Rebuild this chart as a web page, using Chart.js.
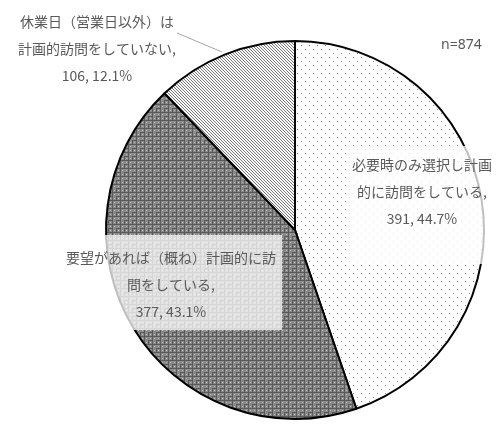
<!DOCTYPE html>
<html>
<head>
<meta charset="utf-8">
<script src="https://cdn.jsdelivr.net/npm/chart.js@4"></script>
<style>
  body { margin: 0; background: #fff; }
</style>
</head>
<body>
<canvas id="grafik" width="497" height="426"></canvas>
<script>
// data dari gambar
const kategori = [
    ['必要時のみ選択し計画', '的に訪問をしている,'],
    ['要望があれば（概ね）計画的に訪', '問をしている,'],
    ['休業日（営業日以外）は', '計画的訪問をしていない,']
];
const jumlah = [391, 377, 106];
const totalN = 874;

// pola isi (dots, plaid, hatch)
function buatPola(ukuran, gambar) {
    const c = document.createElement('canvas');
    c.width = ukuran; c.height = ukuran;
    const g = c.getContext('2d');
    gambar(g);
    return g.createPattern(c, 'repeat');
}
const ctx = document.getElementById('grafik').getContext('2d');

const polaTitik = buatPola(8, g => {
    g.fillStyle = '#fff'; g.fillRect(0, 0, 8, 8);
    g.fillStyle = '#8c8c8c';
    g.fillRect(1, 1, 1, 1);
    g.fillRect(5, 5, 1, 1);
});
const polaKotak = buatPola(8, g => {
    g.fillStyle = '#8a8a8a'; g.fillRect(0, 0, 8, 8);
    g.fillStyle = '#5a5a5a';
    g.fillRect(0, 0, 8, 1); g.fillRect(0, 0, 1, 8);
    g.fillRect(4, 4, 4, 1); g.fillRect(4, 4, 1, 4);
    g.fillStyle = '#bdbdbd';
    g.fillRect(2, 2, 1, 1); g.fillRect(6, 6, 1, 1);
    g.fillRect(2, 6, 1, 1); g.fillRect(6, 2, 1, 1);
});
const polaGaris = buatPola(3, g => {
    g.fillStyle = '#fafafa'; g.fillRect(0, 0, 3, 3);
    g.fillStyle = '#7a7a7a';
    for (let i = 0; i < 3; i++) g.fillRect(i, i, 1, 1);
});

const warnaTeks = '#595959';
const hurufLabel = '14px "Noto Sans CJK JP", sans-serif';

// posisi teks label (x tengah, y baris pertama) dan kotak latar
const posLabel = [
    { x: 422, y: 165, kotak: [347, 146, 150, 118] },
    { x: 171, y: 258, kotak: [62, 235, 220, 95] },
    { x: 97, y: 22, kotak: null }
];

const pluginLabel = {
    id: 'labelPie',
    afterDatasetsDraw(chart) {
        const c = chart.ctx;
        c.save();
        // garis penunjuk untuk slice kecil
        c.strokeStyle = '#a6a6a6';
        c.lineWidth = 1;
        c.beginPath();
        c.moveTo(177, 33);
        c.lineTo(222, 52);
        c.stroke();

        c.font = hurufLabel;
        c.textAlign = 'center';
        c.textBaseline = 'middle';
        kategori.forEach((baris, i) => {
            const p = posLabel[i];
            if (p.kotak) {
                c.fillStyle = 'rgba(255,255,255,0.75)';
                c.fillRect(p.kotak[0], p.kotak[1], p.kotak[2], p.kotak[3]);
            }
            const persen = (jumlah[i] / totalN * 100).toFixed(1) + '%';
            const semua = baris.concat([jumlah[i] + ', ' + persen]);
            c.fillStyle = warnaTeks;
            semua.forEach((t, j) => c.fillText(t, p.x, p.y + j * 27));
        });

        c.font = '14px "Noto Sans", sans-serif';
        c.textAlign = 'left';
        c.fillText('n=' + totalN, 441, 45);
        c.restore();
    }
};

const myChart = new Chart(ctx, {
    type: 'pie',
    data: {
        labels: kategori.map(b => b.join('')),
        datasets: [{
            data: jumlah,
            backgroundColor: [polaTitik, polaKotak, polaGaris],
            borderColor: '#000',
            borderWidth: 2
        }]
    },
    options: {
        responsive: false,
        animation: false,
        layout: { padding: { left: 105, right: 12, top: 40, bottom: 6 } },
        plugins: {
            legend: { display: false },
            tooltip: { enabled: false }
        }
    },
    plugins: [pluginLabel]
});
</script>
</body>
</html>
